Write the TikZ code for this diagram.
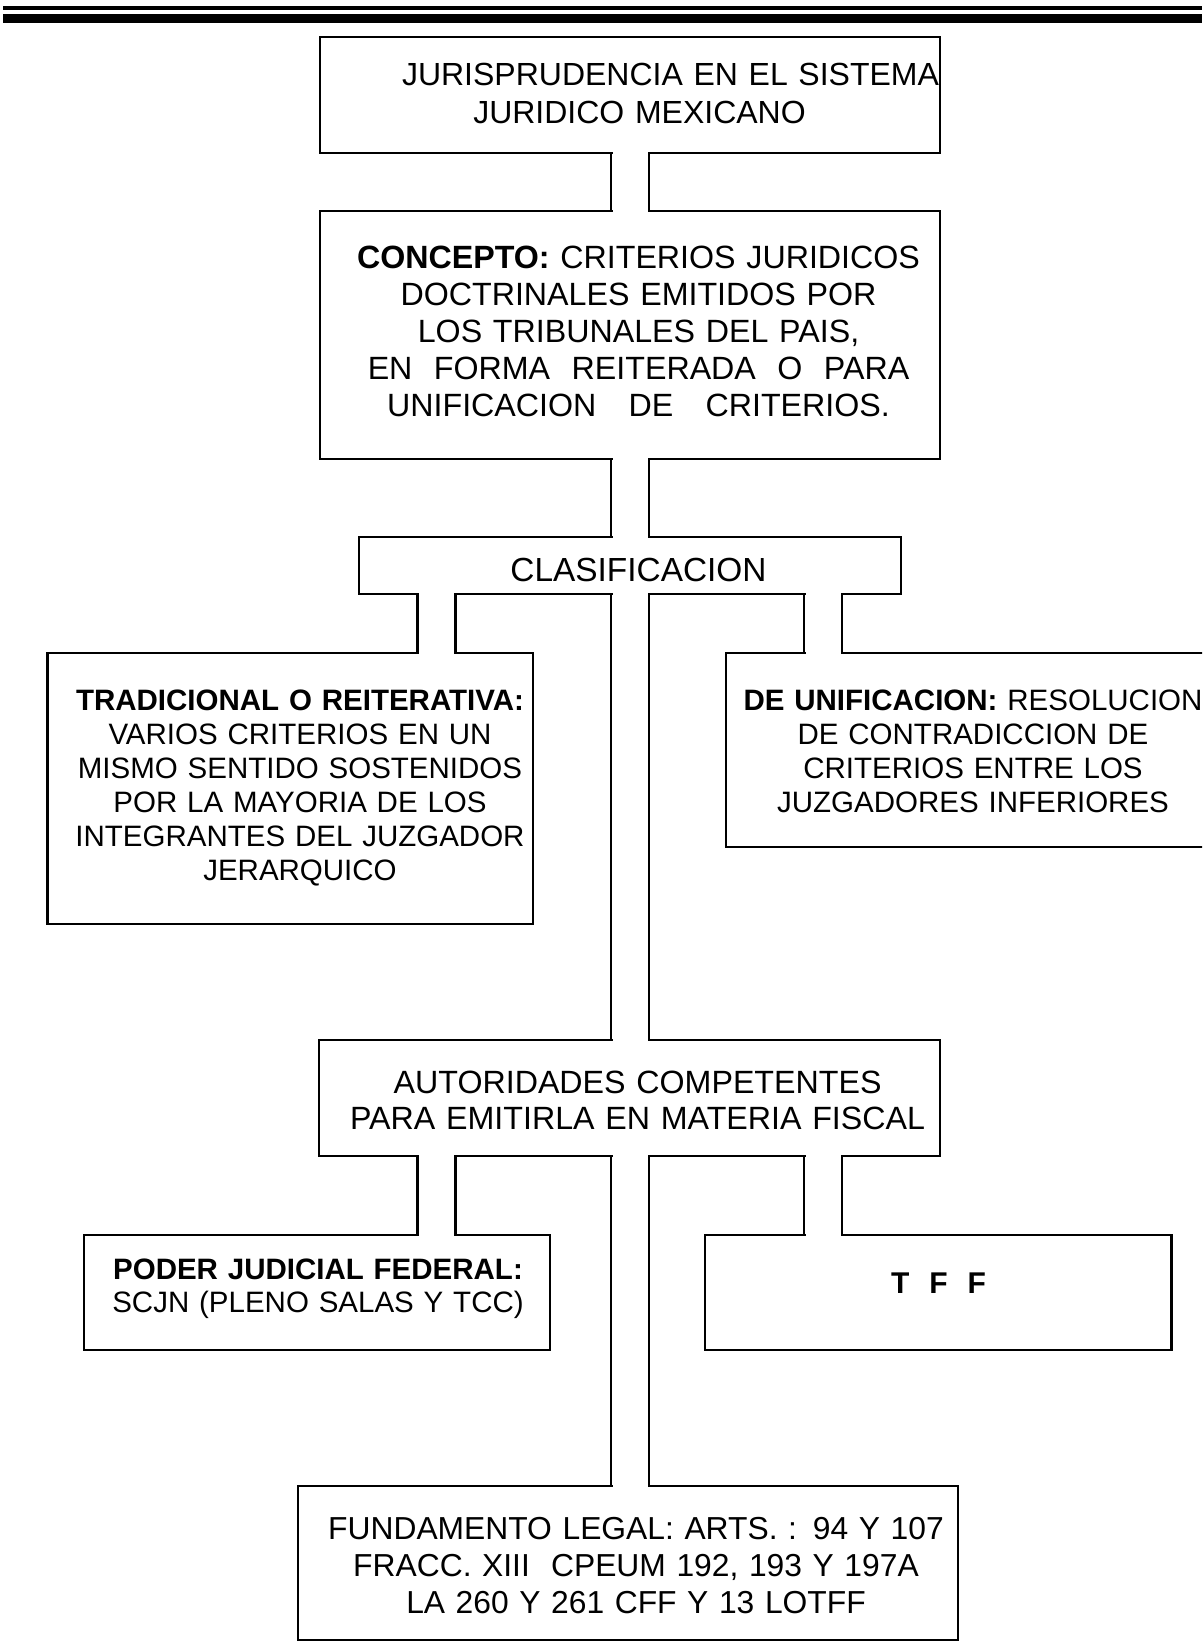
\documentclass[tikz,border=0pt]{standalone}
\usepackage{fontspec}
\setmainfont{Liberation Sans}
\usetikzlibrary{calc}
\tikzset{
  box/.style={draw, line width=2.8pt, inner sep=0pt, outer sep=0pt, fill=white},
  pipe/.style={line width=2.8pt, line cap=rect},
  txt/.style={inner sep=0pt, outer sep=0pt, align=center, anchor=base},
  big/.style={font=\fontsize{32.2pt}{37pt}\selectfont},
  small/.style={font=\fontsize{29.5pt}{34pt}\selectfont},
}
\newcommand\mypipe[4]{%
  \fill[white] ($(#1.south -| #3)+(1.5,-2)$) rectangle ($(#2.north -| #4)+(-1.5,2)$);
  \draw[pipe] (#1.south -| #3) -- (#2.north -| #3);
  \draw[pipe] (#1.south -| #4) -- (#2.north -| #4);
}
\begin{document}
\begin{tikzpicture}[x=1pt,y=-1pt]
\useasboundingbox (0,0) rectangle (1202,1643);
\fill[white] (0,0) rectangle (1202,1643);
\clip (0,0) rectangle (1202,1643);
% header rules
\draw[line width=4pt] (3,8.5) -- (1202,8.5);
\draw[line width=9pt] (3,18.7) -- (1202,18.7);
% boxes
\node[box, minimum width=620pt, minimum height=116pt] (b1) at (630,95) {};
\node[box, minimum width=620pt, minimum height=248pt] (b2) at (630,335) {};
\node[box, minimum width=542pt, minimum height=57pt] (b3) at (630,565.5) {};
\node[box, minimum width=485.5pt, minimum height=271pt] (b4) at (290.25,788.5) {};
\node[box, minimum width=504pt, minimum height=194pt] (b5) at (978,750) {};
\node[box, minimum width=621pt, minimum height=116pt] (b6) at (629.5,1098) {};
\node[box, minimum width=466pt, minimum height=115pt] (b7) at (317,1292.5) {};
\node[box, minimum width=466.7pt, minimum height=115pt] (b8) at (938.35,1292.5) {};
\node[box, minimum width=660pt, minimum height=154pt] (b9) at (628,1563) {};
% pipe columns
\coordinate (cL) at (611,0);
\coordinate (cR) at (649,0);
\coordinate (lL) at (417.5,0);
\coordinate (lR) at (455.5,0);
\coordinate (rL) at (804,0);
\coordinate (rR) at (842,0);
\mypipe{b1}{b2}{cL}{cR}
\mypipe{b2}{b3}{cL}{cR}
\mypipe{b3}{b4}{lL}{lR}
\mypipe{b3}{b6}{cL}{cR}
\mypipe{b3}{b5}{rL}{rR}
\mypipe{b6}{b7}{lL}{lR}
\mypipe{b6}{b9}{cL}{cR}
\mypipe{b6}{b8}{rL}{rR}
% texts
\node[txt, text width=600pt, font=\fontsize{32pt}{38pt}\selectfont] (t1) at (670.5,86)
  {JURISPRUDENCIA EN EL SISTEMA\\JURIDICO MEXICANO\hspace*{62pt}\mbox{}};
\node[txt, big, text width=600pt] (t2) at (638.5,268)
  {\textbf{CONCEPTO:} CRITERIOS JURIDICOS\\DOCTRINALES EMITIDOS POR\\LOS TRIBUNALES DEL PAIS,\\EN~ FORMA~ REITERADA~ O~ PARA\\UNIFICACION~~ DE~~ CRITERIOS.};
\node[txt, text width=500pt, font=\fontsize{33.4pt}{38pt}\selectfont] (t3) at (638.5,581) {CLASIFICACION};
\node[txt, small, text width=470pt] (t4) at (300,710)
  {\textbf{TRADICIONAL O REITERATIVA:}\\VARIOS CRITERIOS EN UN\\MISMO SENTIDO SOSTENIDOS\\POR LA MAYORIA DE LOS\\INTEGRANTES DEL JUZGADOR\\JERARQUICO};
\node[txt, small, text width=470pt] (t5) at (973,710)
  {\textbf{DE UNIFICACION:} RESOLUCION\\DE CONTRADICCION DE\\CRITERIOS ENTRE LOS\\JUZGADORES INFERIORES};
\node[txt, font=\fontsize{32.2pt}{36pt}\selectfont, text width=600pt] (t6) at (637.6,1093)
  {AUTORIDADES COMPETENTES\\PARA EMITIRLA EN MATERIA FISCAL};
\node[txt, font=\fontsize{29.5pt}{33pt}\selectfont, text width=440pt] (t7) at (318,1279)
  {\textbf{PODER JUDICIAL FEDERAL:}\\SCJN (PLENO SALAS Y TCC)};
\node[txt, font=\fontsize{30pt}{34pt}\selectfont\bfseries, text width=300pt] (t8) at (938.5,1293)
  {T~ F~ F};
\node[txt, font=\fontsize{31.8pt}{37pt}\selectfont, text width=640pt] (t9) at (636,1539)
  {FUNDAMENTO LEGAL: ARTS. : 94 Y 107\\FRACC. XIII~ CPEUM 192, 193 Y 197A\\LA 260 Y 261 CFF Y 13 LOTFF};
\end{tikzpicture}
\end{document}
